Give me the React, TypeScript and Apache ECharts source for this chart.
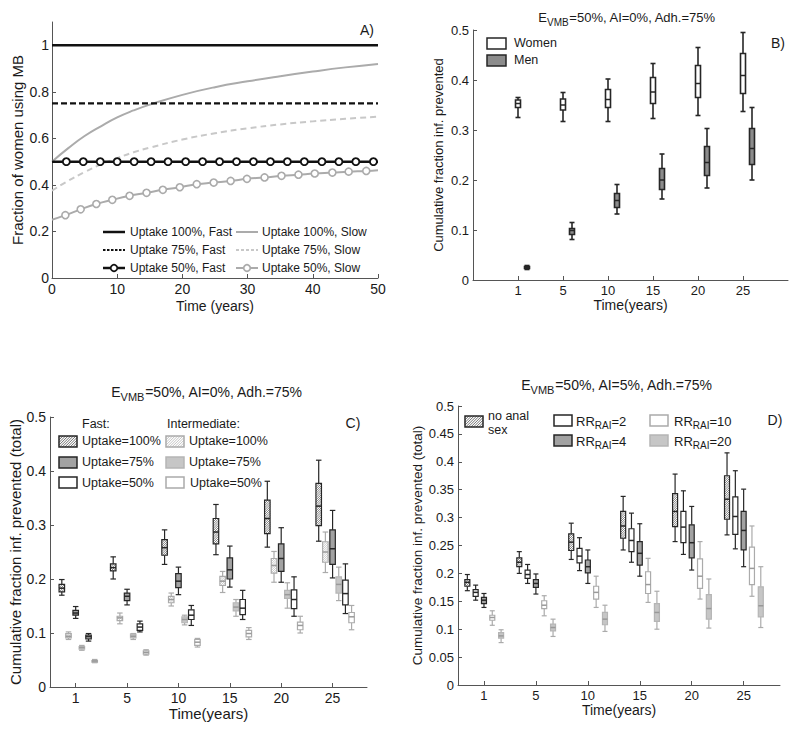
import React, { useEffect, useRef } from 'react';
import * as echarts from 'echarts';

const FONT = '"Liberation Sans", Arial, Helvetica, sans-serif';
const TEXT = '#1a1a1a';
const AXIS = '#555555';

// ---------- shared time axis (panels B, C, D) ----------
const timeLabels = ['1', '5', '10', '15', '20', '25'];
const timeSlots = [1, 2, 3, 4, 5, 6];

// ---------- Panel A ----------
const aFastX = [0, 50];
const aFast100 = [1, 1];
const aFast75 = [0.75, 0.75];
const aFast50X = [0, 2.2, 4.8, 7.4, 10, 12.6, 15.2, 17.8, 20.5, 23.1, 25.7, 28.3, 30.9, 33.5, 36.1, 38.7, 41.4, 44, 46.6, 49.3, 50];
const aFast50 = [0.5, 0.5, 0.5, 0.5, 0.5, 0.5, 0.5, 0.5, 0.5, 0.5, 0.5, 0.5, 0.5, 0.5, 0.5, 0.5, 0.5, 0.5, 0.5, 0.5, 0.5];
const aSlowX = [0, 2.5, 5, 7.5, 10, 12.5, 15, 20, 25, 30, 35, 40, 45, 50];
const aSlow100 = [0.5, 0.558, 0.61, 0.652, 0.69, 0.72, 0.745, 0.787, 0.82, 0.845, 0.867, 0.887, 0.905, 0.92];
const aSlow75 = [0.375, 0.418, 0.455, 0.488, 0.515, 0.54, 0.56, 0.595, 0.622, 0.643, 0.66, 0.673, 0.684, 0.693];
const aSlow50X = [0, 2.05, 4.4, 6.8, 9.25, 11.9, 14.5, 17, 19.6, 22.2, 24.8, 27.4, 29.9, 32.6, 35.2, 37.8, 40.3, 43, 45.5, 48.2, 50];
const aSlow50 = [0.25, 0.27, 0.295, 0.318, 0.336, 0.353, 0.366, 0.379, 0.39, 0.403, 0.41, 0.417, 0.426, 0.432, 0.439, 0.444, 0.449, 0.453, 0.457, 0.46, 0.463];
const aLegendFast = ['Uptake 100%, Fast', 'Uptake 75%, Fast', 'Uptake 50%, Fast'];
const aLegendSlow = ['Uptake 100%, Slow', 'Uptake 75%, Slow', 'Uptake 50%, Slow'];

// ---------- Panel B  [low, q1, median, q3, high] ----------
const bWomen = [
  [0.325, 0.345, 0.353, 0.36, 0.365],
  [0.317, 0.34, 0.35, 0.362, 0.375],
  [0.317, 0.345, 0.361, 0.381, 0.402],
  [0.323, 0.353, 0.376, 0.405, 0.433],
  [0.329, 0.365, 0.393, 0.429, 0.465],
  [0.337, 0.373, 0.409, 0.453, 0.495],
];
const bMen = [
  [0.021, 0.023, 0.025, 0.027, 0.029],
  [0.081, 0.091, 0.099, 0.103, 0.115],
  [0.132, 0.145, 0.159, 0.173, 0.191],
  [0.162, 0.181, 0.2, 0.223, 0.252],
  [0.184, 0.209, 0.235, 0.267, 0.303],
  [0.2, 0.231, 0.263, 0.303, 0.345],
];

// ---------- Panel C ----------
const cFast100 = [
  [0.17, 0.176, 0.183, 0.19, 0.199],
  [0.2, 0.215, 0.221, 0.228, 0.241],
  [0.227, 0.244, 0.258, 0.273, 0.291],
  [0.245, 0.265, 0.287, 0.312, 0.338],
  [0.259, 0.284, 0.312, 0.346, 0.381],
  [0.27, 0.299, 0.335, 0.377, 0.42],
];
const cInt100 = [
  [0.088, 0.091, 0.094, 0.099, 0.102],
  [0.117, 0.123, 0.128, 0.131, 0.137],
  [0.15, 0.156, 0.162, 0.168, 0.174],
  [0.175, 0.188, 0.196, 0.205, 0.214],
  [0.194, 0.211, 0.225, 0.238, 0.251],
  [0.212, 0.231, 0.25, 0.269, 0.287],
];
const cFast75 = [
  [0.127, 0.133, 0.137, 0.142, 0.149],
  [0.152, 0.16, 0.168, 0.174, 0.181],
  [0.171, 0.184, 0.196, 0.21, 0.222],
  [0.185, 0.2, 0.217, 0.239, 0.261],
  [0.194, 0.214, 0.238, 0.265, 0.295],
  [0.202, 0.227, 0.256, 0.291, 0.327],
];
const cInt75 = [
  [0.068, 0.07, 0.073, 0.075, 0.077],
  [0.088, 0.091, 0.094, 0.098, 0.099],
  [0.115, 0.119, 0.125, 0.13, 0.133],
  [0.131, 0.141, 0.148, 0.156, 0.162],
  [0.146, 0.164, 0.171, 0.179, 0.193],
  [0.16, 0.174, 0.19, 0.204, 0.222],
];
const cFast50 = [
  [0.085, 0.089, 0.093, 0.096, 0.099],
  [0.102, 0.105, 0.111, 0.117, 0.122],
  [0.114, 0.125, 0.133, 0.143, 0.151],
  [0.125, 0.134, 0.146, 0.162, 0.179],
  [0.131, 0.145, 0.162, 0.18, 0.204],
  [0.136, 0.152, 0.173, 0.198, 0.228],
];
const cInt50 = [
  [0.045, 0.046, 0.048, 0.049, 0.051],
  [0.059, 0.061, 0.064, 0.067, 0.069],
  [0.074, 0.077, 0.083, 0.088, 0.09],
  [0.088, 0.093, 0.099, 0.105, 0.11],
  [0.1, 0.106, 0.114, 0.12, 0.131],
  [0.106, 0.119, 0.13, 0.138, 0.151],
];

// ---------- Panel D ----------
const dNoAnal = [
  [0.169, 0.177, 0.184, 0.189, 0.198],
  [0.2, 0.212, 0.22, 0.228, 0.239],
  [0.225, 0.241, 0.256, 0.271, 0.29],
  [0.242, 0.263, 0.285, 0.311, 0.338],
  [0.257, 0.284, 0.311, 0.343, 0.378],
  [0.269, 0.297, 0.333, 0.375, 0.416],
];
const dRR2 = [
  [0.152, 0.159, 0.166, 0.171, 0.179],
  [0.182, 0.191, 0.198, 0.206, 0.216],
  [0.205, 0.219, 0.231, 0.245, 0.264],
  [0.22, 0.239, 0.259, 0.28, 0.308],
  [0.234, 0.255, 0.283, 0.311, 0.348],
  [0.244, 0.27, 0.302, 0.337, 0.384],
];
const dRR4 = [
  [0.139, 0.146, 0.152, 0.157, 0.164],
  [0.163, 0.175, 0.182, 0.189, 0.199],
  [0.182, 0.201, 0.212, 0.224, 0.242],
  [0.195, 0.215, 0.236, 0.257, 0.289],
  [0.206, 0.228, 0.255, 0.287, 0.32],
  [0.212, 0.242, 0.277, 0.311, 0.351],
];
const dRR10 = [
  [0.107, 0.116, 0.121, 0.125, 0.133],
  [0.124, 0.137, 0.143, 0.151, 0.16],
  [0.139, 0.154, 0.166, 0.177, 0.195],
  [0.148, 0.164, 0.18, 0.203, 0.227],
  [0.154, 0.173, 0.195, 0.226, 0.257],
  [0.159, 0.18, 0.209, 0.247, 0.285],
];
const dRR20 = [
  [0.076, 0.084, 0.088, 0.094, 0.099],
  [0.087, 0.097, 0.103, 0.109, 0.118],
  [0.096, 0.108, 0.118, 0.13, 0.143],
  [0.1, 0.114, 0.13, 0.146, 0.168],
  [0.102, 0.118, 0.137, 0.162, 0.19],
  [0.103, 0.122, 0.142, 0.176, 0.212],
];

// ---------- styles ----------
type BoxStyle = { fill: string; stroke: string; whisker: string; median: string; hatch?: string };
const DARK = '#262626';
const LIGHT = '#ababab';
const ST: Record<string, BoxStyle> = {
  hatchDark: { fill: '#ffffff', hatch: '#4a4a4a', stroke: DARK, whisker: DARK, median: DARK },
  hatchLight: { fill: '#ffffff', hatch: '#b5b5b5', stroke: LIGHT, whisker: LIGHT, median: '#9a9a9a' },
  grayDark: { fill: '#a2a2a2', stroke: DARK, whisker: DARK, median: DARK },
  grayMen: { fill: '#8c8c8c', stroke: DARK, whisker: DARK, median: DARK },
  grayLight: { fill: '#c6c6c6', stroke: '#b5b5b5', whisker: LIGHT, median: '#999999' },
  whiteDark: { fill: '#ffffff', stroke: DARK, whisker: DARK, median: DARK },
  whiteLight: { fill: '#ffffff', stroke: LIGHT, whisker: LIGHT, median: '#9a9a9a' },
};

function hatchLines(x0: number, y0: number, w: number, h: number, step: number, color: string, lw: number) {
  const out: any[] = [];
  const x1 = x0 + w;
  const y1 = y0 + h;
  for (let c = x0 + y0 + step * 0.5; c < x1 + y1; c += step) {
    const xa = Math.max(x0, c - y1);
    const xb = Math.min(x1, c - y0);
    if (xb - xa > 0.2) {
      out.push({
        type: 'line',
        silent: true,
        shape: { x1: xa, y1: c - xa, x2: xb, y2: c - xb },
        style: { stroke: color, lineWidth: lw },
      });
    }
  }
  return out;
}

function seg(x1: number, y1: number, x2: number, y2: number, stroke: string, lw: number, dash?: number[]) {
  return { type: 'line', silent: true, shape: { x1, y1, x2, y2 }, style: { stroke, lineWidth: lw, ...(dash ? { lineDash: dash } : {}) } };
}

function boxSeries(name: string, values: number[][], offset: number, axis: number, st: BoxStyle, boxW: number, lw: number) {
  return {
    type: 'custom',
    name,
    xAxisIndex: axis,
    yAxisIndex: axis,
    data: values.map((v, i) => [timeSlots[i] + offset, v[0], v[1], v[2], v[3], v[4]]),
    encode: { x: 0, y: [1, 2, 3, 4, 5] },
    z: 3,
    renderItem: (_params: any, api: any) => {
      const xv = api.value(0);
      const p = (k: number) => api.coord([xv, api.value(k)]);
      const cx = p(1)[0];
      const yLow = p(1)[1];
      const yQ1 = p(2)[1];
      const yMed = p(3)[1];
      const yQ3 = p(4)[1];
      const yHigh = p(5)[1];
      const hw = boxW / 2;
      const bh = Math.max(yQ1 - yQ3, 1);
      const children: any[] = [
        seg(cx, yHigh, cx, yQ3, st.whisker, lw),
        seg(cx, yQ1, cx, yLow, st.whisker, lw),
        seg(cx - hw, yHigh, cx + hw, yHigh, st.whisker, lw),
        seg(cx - hw, yLow, cx + hw, yLow, st.whisker, lw),
        { type: 'rect', shape: { x: cx - hw, y: yQ3, width: boxW, height: bh }, style: { fill: st.fill, stroke: 'none' } },
      ];
      if (st.hatch) children.push(...hatchLines(cx - hw, yQ3, boxW, bh, 2.2, st.hatch, 0.7));
      children.push({
        type: 'rect',
        shape: { x: cx - hw, y: yQ3, width: boxW, height: bh },
        style: { fill: 'none', stroke: st.stroke, lineWidth: lw },
      });
      children.push(seg(cx - hw, yMed, cx + hw, yMed, st.median, 1.5));
      return { type: 'group', children };
    },
  };
}

function swatch(x: number, y: number, w: number, h: number, st: BoxStyle) {
  const out: any[] = [{ type: 'rect', silent: true, shape: { x, y, width: w, height: h }, style: { fill: st.fill, stroke: 'none' } }];
  if (st.hatch) out.push(...hatchLines(x, y, w, h, 2.6, st.hatch, 0.8));
  out.push({ type: 'rect', silent: true, shape: { x, y, width: w, height: h }, style: { fill: 'none', stroke: st.stroke, lineWidth: 1.5 } });
  return out;
}

function label(x: number, y: number, text: string, fontSize: number, align = 'left', rich?: any) {
  return {
    type: 'text',
    x,
    y,
    silent: true,
    style: {
      text,
      fontSize,
      fontFamily: FONT,
      fill: TEXT,
      align,
      textAlign: align,
      verticalAlign: 'middle',
      textVerticalAlign: 'middle',
      ...(rich ? { rich } : {}),
    },
  };
}

function lineKey(x: number, y: number, color: string, lw: number, dash?: number[], marker?: boolean) {
  const out: any[] = [seg(x, y, x + 22, y, color, lw, dash)];
  if (marker) {
    out.push({
      type: 'circle',
      silent: true,
      shape: { cx: x + 11, cy: y, r: 3.3 },
      style: { fill: '#ffffff', stroke: color, lineWidth: 1.7 },
    });
  }
  return out;
}

const titleRich = (fs: number) => ({
  n: { fontSize: fs, fontFamily: FONT, fill: TEXT, color: TEXT, lineHeight: 20 },
  s: { fontSize: fs - 3, fontFamily: FONT, fill: TEXT, color: TEXT, lineHeight: 10, verticalAlign: 'bottom' },
});
const rrRich = {
  n: { fontSize: 13, fontFamily: FONT, fill: TEXT, color: TEXT, lineHeight: 18 },
  s: { fontSize: 10, fontFamily: FONT, fill: TEXT, color: TEXT, lineHeight: 9, verticalAlign: 'bottom' },
};

function axisCommon(fs: number) {
  return {
    axisLine: { show: true, lineStyle: { color: AXIS, width: 1 } },
    axisTick: { show: true, inside: true, length: 4, lineStyle: { color: AXIS } },
    axisLabel: { color: TEXT, fontSize: fs, fontFamily: FONT, margin: 4 },
    splitLine: { show: false },
    nameLocation: 'middle' as const,
  };
}

function timeXAxis(grid: number, min: number, max: number, fs: number, gap: number) {
  const c = axisCommon(fs);
  return {
    ...c,
    type: 'value',
    gridIndex: grid,
    min,
    max,
    axisTick: { ...c.axisTick, customValues: timeSlots },
    axisLabel: { ...c.axisLabel, customValues: timeSlots, formatter: (v: number) => timeLabels[Math.round(v) - 1] ?? '' },
    name: 'Time(years)',
    nameGap: gap,
    nameTextStyle: { fontSize: fs + 1, color: TEXT, fontFamily: FONT },
  };
}

function lineData(xs: number[], ys: number[], markers: boolean) {
  return xs.map((x, i) => {
    if (markers && (i === 0 || i === xs.length - 1)) return { value: [x, ys[i]], symbol: 'none' };
    return [x, ys[i]];
  });
}

export default function App() {
  const ref = useRef<HTMLDivElement>(null);
  useEffect(() => {
    if (!ref.current) return;
    const chart = echarts.init(ref.current, undefined, { renderer: 'svg' });

    const BLK = '#111111';
    const G1 = '#ababab';
    const G2 = '#c8c8c8';
    const rowsA = [232, 250, 268];

    const graphics: any[] = [
      label(367, 30, 'A)', 14, 'center'),
      label(778, 43, 'B)', 14, 'center'),
      label(353, 423, 'C)', 14, 'center'),
      label(775, 420, 'D)', 14, 'center'),
      label(627, 17, '{n|E}{s|VMB}{n|=50%, AI=0%, Adh.=75%}', 13, 'center', titleRich(13)),
      label(207, 392, '{n|E}{s|VMB}{n|=50%, AI=0%, Adh.=75%}', 14, 'center', titleRich(14)),
      label(617, 385, '{n|E}{s|VMB}{n|=50%, AI=5%, Adh.=75%}', 14, 'center', titleRich(14)),
      // A legend
      ...lineKey(103, rowsA[0], BLK, 2.5),
      label(130, rowsA[0], aLegendFast[0], 12),
      ...lineKey(103, rowsA[1], BLK, 2.2, [2.5, 1.5]),
      label(130, rowsA[1], aLegendFast[1], 12),
      ...lineKey(103, rowsA[2], BLK, 2.5, undefined, true),
      label(130, rowsA[2], aLegendFast[2], 12),
      ...lineKey(236, rowsA[0], G1, 2),
      label(262, rowsA[0], aLegendSlow[0], 12),
      ...lineKey(236, rowsA[1], G2, 2, [3, 2]),
      label(262, rowsA[1], aLegendSlow[1], 12),
      ...lineKey(236, rowsA[2], G1, 2, undefined, true),
      label(262, rowsA[2], aLegendSlow[2], 12),
      // B legend
      ...swatch(487, 38, 19, 11, ST.whiteDark),
      label(514, 43, 'Women', 12.5),
      ...swatch(487, 55, 19, 11, ST.grayMen),
      label(514, 60, 'Men', 12.5),
      // C legend
      label(82, 424, 'Fast:', 12.5),
      label(167, 424, 'Intermediate:', 12.5),
      ...swatch(59, 436, 18, 11, ST.hatchDark),
      label(82, 441, 'Uptake=100%', 12.5),
      ...swatch(59, 457, 18, 11, ST.grayDark),
      label(82, 462, 'Uptake=75%', 12.5),
      ...swatch(59, 477, 18, 11, ST.whiteDark),
      label(82, 483, 'Uptake=50%', 12.5),
      ...swatch(166, 436, 18, 11, ST.hatchLight),
      label(189, 441, 'Uptake=100%', 12.5),
      ...swatch(166, 457, 18, 11, ST.grayLight),
      label(189, 462, 'Uptake=75%', 12.5),
      ...swatch(166, 477, 18, 11, ST.whiteLight),
      label(190, 483, 'Uptake=50%', 12.5),
      // D legend
      ...swatch(465, 416, 18, 11, ST.hatchDark),
      label(488, 416, 'no anal', 12.5),
      label(488, 430, 'sex', 12.5),
      ...swatch(554, 415, 18, 11, ST.whiteDark),
      label(576, 421, '{n|RR}{s|RAI}{n|=2}', 13, 'left', rrRich),
      ...swatch(554, 435, 18, 11, ST.grayDark),
      label(576, 441, '{n|RR}{s|RAI}{n|=4}', 13, 'left', rrRich),
      ...swatch(650, 415, 18, 11, ST.whiteLight),
      label(674, 421, '{n|RR}{s|RAI}{n|=10}', 13, 'left', rrRich),
      ...swatch(650, 435, 18, 11, ST.grayLight),
      label(674, 441, '{n|RR}{s|RAI}{n|=20}', 13, 'left', rrRich),
    ];

    const aC = axisCommon(14);
    const option: any = {
      animation: false,
      backgroundColor: '#ffffff',
      textStyle: { fontFamily: FONT },
      grid: [
        { left: 52, top: 22, width: 326, height: 256 },
        { left: 473, top: 30, width: 315, height: 250 },
        { left: 50, top: 417, width: 317, height: 270 },
        { left: 458, top: 406, width: 322, height: 279 },
      ],
      xAxis: [
        {
          ...aC,
          type: 'value',
          gridIndex: 0,
          min: 0,
          max: 50,
          interval: 10,
          name: 'Time (years)',
          nameGap: 21,
          nameTextStyle: { fontSize: 14, color: TEXT, fontFamily: FONT },
        },
        timeXAxis(1, 0, 7, 13, 18),
        timeXAxis(2, 0.5, 6.67, 14, 18),
        timeXAxis(3, 0.5, 6.7, 13, 17),
      ],
      yAxis: [
        {
          ...aC,
          type: 'value',
          gridIndex: 0,
          min: 0,
          max: 1.1,
          axisTick: { ...aC.axisTick, customValues: [0, 0.2, 0.4, 0.6, 0.8, 1] },
          axisLabel: { ...aC.axisLabel, margin: 3, customValues: [0, 0.2, 0.4, 0.6, 0.8, 1] },
          name: 'Fraction of women using MB',
          nameGap: 27,
          nameTextStyle: { fontSize: 15, color: TEXT, fontFamily: FONT },
        },
        {
          ...axisCommon(13),
          type: 'value',
          gridIndex: 1,
          min: 0,
          max: 0.5,
          interval: 0.1,
          name: 'Cumulative fraction inf. prevented',
          nameGap: 28,
          nameTextStyle: { fontSize: 13, color: TEXT, fontFamily: FONT },
        },
        {
          ...axisCommon(14),
          type: 'value',
          gridIndex: 2,
          min: 0,
          max: 0.5,
          interval: 0.1,
          name: 'Cumulative fraction inf. prevented (total)',
          nameGap: 27,
          nameTextStyle: { fontSize: 15, color: TEXT, fontFamily: FONT },
        },
        {
          ...axisCommon(13),
          type: 'value',
          gridIndex: 3,
          min: 0,
          max: 0.5,
          interval: 0.05,
          name: 'Cumulative fraction inf. prevented (total)',
          nameGap: 31,
          nameTextStyle: { fontSize: 13.5, color: TEXT, fontFamily: FONT },
        },
      ],
      graphic: { elements: graphics },
      series: [
        {
          type: 'line', name: aLegendSlow[0], xAxisIndex: 0, yAxisIndex: 0, smooth: true, symbol: 'none',
          data: lineData(aSlowX, aSlow100, false),
          lineStyle: { color: G1, width: 2 }, itemStyle: { color: G1 },
        },
        {
          type: 'line', name: aLegendSlow[1], xAxisIndex: 0, yAxisIndex: 0, smooth: true, symbol: 'none',
          data: lineData(aSlowX, aSlow75, false),
          lineStyle: { color: G2, width: 2, type: [6, 4] }, itemStyle: { color: G2 },
        },
        {
          type: 'line', name: aLegendSlow[2], xAxisIndex: 0, yAxisIndex: 0, smooth: true,
          symbol: 'circle', symbolSize: 7,
          data: lineData(aSlow50X, aSlow50, true),
          lineStyle: { color: G1, width: 2 },
          itemStyle: { color: '#ffffff', borderColor: G1, borderWidth: 1.6 },
        },
        {
          type: 'line', name: aLegendFast[0], xAxisIndex: 0, yAxisIndex: 0, symbol: 'none',
          data: lineData(aFastX, aFast100, false),
          lineStyle: { color: BLK, width: 2.5 }, itemStyle: { color: BLK },
        },
        {
          type: 'line', name: aLegendFast[1], xAxisIndex: 0, yAxisIndex: 0, symbol: 'none',
          data: lineData(aFastX, aFast75, false),
          lineStyle: { color: BLK, width: 2.2, type: [6, 3] }, itemStyle: { color: BLK },
        },
        {
          type: 'line', name: aLegendFast[2], xAxisIndex: 0, yAxisIndex: 0,
          symbol: 'circle', symbolSize: 7,
          data: lineData(aFast50X, aFast50, true),
          lineStyle: { color: BLK, width: 2.5 },
          itemStyle: { color: '#ffffff', borderColor: BLK, borderWidth: 1.8 },
        },
        boxSeries('B Women', bWomen, 0, 1, ST.whiteDark, 5, 1.6),
        boxSeries('B Men', bMen, 0.2, 1, ST.grayMen, 5, 1.6),
        boxSeries('C Fast 100', cFast100, -0.27, 2, ST.hatchDark, 5.5, 1.2),
        boxSeries('C Int 100', cInt100, -0.14, 2, ST.hatchLight, 5.5, 1.2),
        boxSeries('C Fast 75', cFast75, 0, 2, ST.grayDark, 5.5, 1.2),
        boxSeries('C Int 75', cInt75, 0.12, 2, ST.grayLight, 5.5, 1.2),
        boxSeries('C Fast 50', cFast50, 0.25, 2, ST.whiteDark, 5.5, 1.2),
        boxSeries('C Int 50', cInt50, 0.37, 2, ST.whiteLight, 5.5, 1.2),
        boxSeries('D no anal sex', dNoAnal, -0.32, 3, ST.hatchDark, 5, 1.2),
        boxSeries('D RR2', dRR2, -0.16, 3, ST.whiteDark, 5, 1.2),
        boxSeries('D RR4', dRR4, 0, 3, ST.grayDark, 5, 1.2),
        boxSeries('D RR10', dRR10, 0.16, 3, ST.whiteLight, 5, 1.2),
        boxSeries('D RR20', dRR20, 0.33, 3, ST.grayLight, 5, 1.2),
      ],
    };
    chart.setOption(option);
    return () => chart.dispose();
  }, []);
  return <div ref={ref} style={{ position: 'absolute', left: 0, top: 0, width: 800, height: 729, background: '#fff' }} />;
}
